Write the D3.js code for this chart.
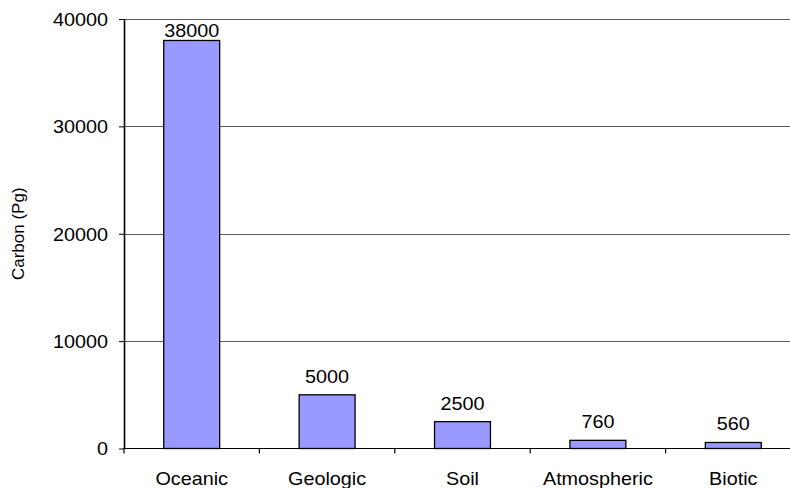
<!DOCTYPE html>
<html>
<head>
<meta charset="utf-8">
<script src="https://cdn.jsdelivr.net/npm/d3@7/dist/d3.min.js"></script>
<style>
  html, body { margin: 0; padding: 0; background: #fff; }
  svg { display: block; }
  text { font-family: "Liberation Sans", Arial, Helvetica, sans-serif; fill: #000; }
</style>
</head>
<body>
<svg id="chart" width="790" height="488"></svg>
<script>
// Global carbon pools, in petagrams of carbon
const categories = ["Oceanic", "Geologic", "Soil", "Atmospheric", "Biotic"];
const carbon = [38000, 5000, 2500, 760, 560];
const yTicks = [0, 10000, 20000, 30000, 40000];
const yTitle = "Carbon (Pg)";

const W = 790, H = 488;
const plot = { left: 124, right: 801, top: 19, bottom: 448.5 };
const stretch = 1.1;   // horizontal widening of the label face
const fontSize = 18;

const svg = d3.select("#chart");

const x = d3.scaleBand()
  .domain(categories)
  .range([plot.left, plot.right])
  .padding(0);

const y = d3.scaleLinear()
  .domain([0, 40000])
  .range([plot.bottom, plot.top]);

const barW = x.bandwidth() * 0.413;

// horizontal gridlines (above zero)
svg.append("g")
  .selectAll("line")
  .data(yTicks.filter(d => d > 0))
  .join("line")
  .attr("x1", plot.left)
  .attr("x2", W)
  .attr("y1", d => Math.round(y(d)) + 0.5)
  .attr("y2", d => Math.round(y(d)) + 0.5)
  .attr("stroke", "#5a5a5a")
  .attr("stroke-width", 1);

// bars
svg.append("g")
  .selectAll("rect")
  .data(categories.map((c, i) => ({ c, v: carbon[i] })))
  .join("rect")
  .attr("x", d => x(d.c) + x.bandwidth() / 2 - barW / 2)
  .attr("y", d => y(d.v))
  .attr("width", barW)
  .attr("height", d => y(0) - y(d.v))
  .attr("fill", "#9999ff")
  .attr("stroke", "#000")
  .attr("stroke-width", 1.3);

// value labels above bars, kept inside the plot area
const labels = svg.append("g")
  .selectAll("g")
  .data(categories.map((c, i) => ({ c, v: carbon[i] })))
  .join("g")
  .attr("transform", d => {
    const by = Math.max(y(d.v) - 12, plot.top + 18);
    return `translate(${x(d.c) + x.bandwidth() / 2},${by}) scale(${stretch},1)`;
  });
labels.append("text")
  .attr("text-anchor", "middle")
  .attr("font-size", fontSize)
  .text(d => d.v);

// y axis
const yAxis = svg.append("g")
  .attr("transform", `translate(${plot.left},0)`)
  .call(d3.axisLeft(y)
    .tickValues(yTicks)
    .tickFormat(d3.format("d"))
    .tickSize(5)
    .tickSizeOuter(0)
    .tickPadding(9.5));
yAxis.select(".domain").attr("stroke", "#000").attr("stroke-width", 1.6);
yAxis.selectAll(".tick line").attr("stroke", "#000");
yAxis.selectAll(".tick text")
  .attr("font-size", fontSize)
  .attr("font-family", null)
  .attr("dy", "0.36em")
  .attr("transform", `scale(${stretch},1)`);
yAxis.attr("font-family", null);

// x axis baseline and category boundary ticks
const xAxis = svg.append("g");
xAxis.append("line")
  .attr("x1", plot.left - 0.5)
  .attr("x2", W)
  .attr("y1", y(0))
  .attr("y2", y(0))
  .attr("stroke", "#000")
  .attr("stroke-width", 1.2);
xAxis.selectAll("line.tick")
  .data(categories)
  .join("line")
  .attr("class", "tick")
  .attr("x1", d => x(d))
  .attr("x2", d => x(d))
  .attr("y1", y(0))
  .attr("y2", y(0) + 5)
  .attr("stroke", "#000")
  .attr("stroke-width", 1.2);

// category labels
xAxis.selectAll("g.cat")
  .data(categories)
  .join("g")
  .attr("class", "cat")
  .attr("transform", d => `translate(${x(d) + x.bandwidth() / 2},${y(0) + 36.5}) scale(${stretch},1)`)
  .append("text")
  .attr("text-anchor", "middle")
  .attr("font-size", fontSize)
  .text(d => d);

// y axis title
svg.append("text")
  .attr("transform", `translate(24,${(plot.top + plot.bottom) / 2}) rotate(-90)`)
  .attr("text-anchor", "middle")
  .attr("font-size", 17)
  .text(yTitle);
</script>
</body>
</html>
